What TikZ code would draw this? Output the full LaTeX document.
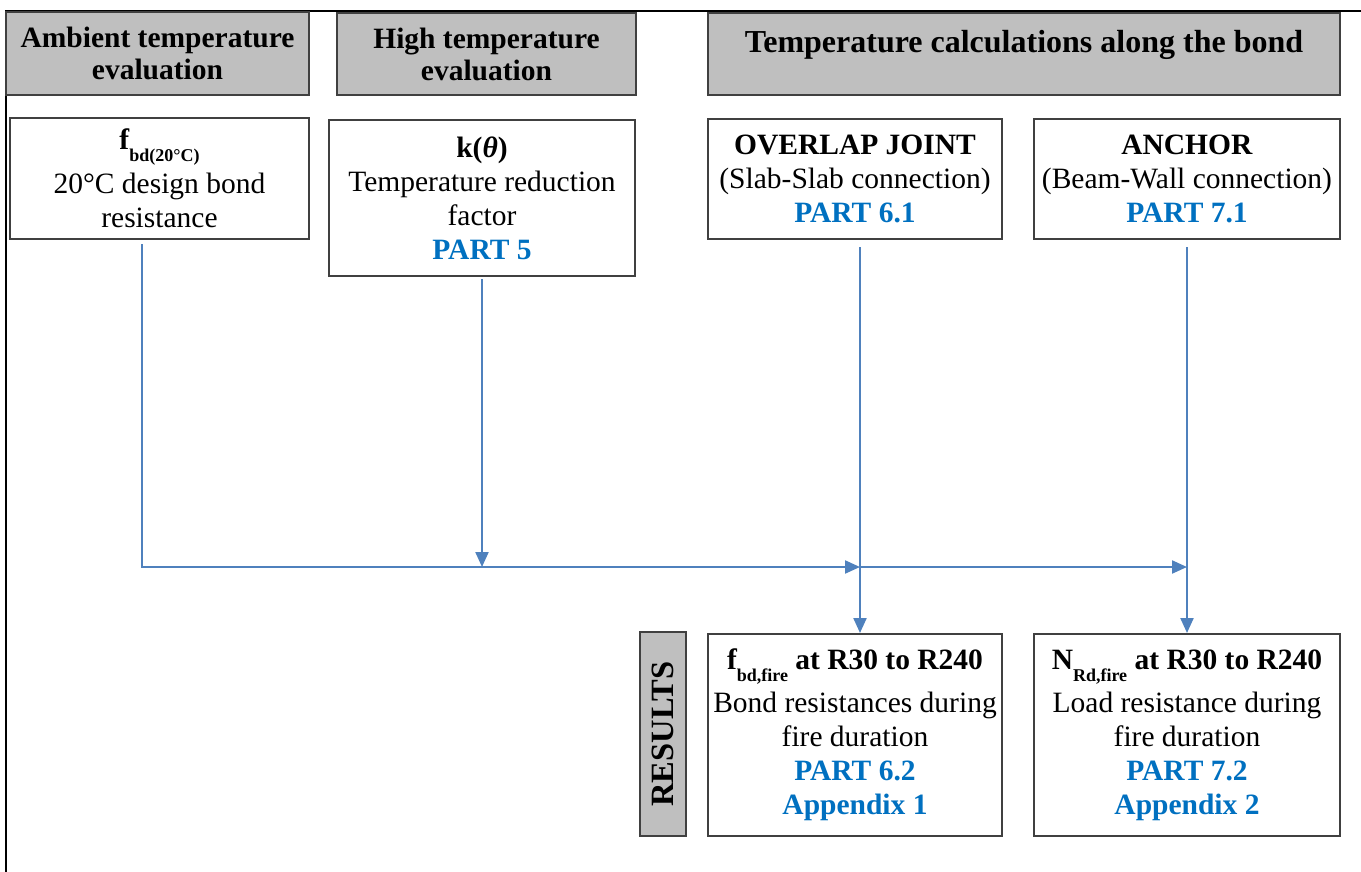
\documentclass[tikz,border=0pt]{standalone}
\usepackage{fontspec}
\setmainfont{Liberation Serif}
\usepackage{tikz}
\usetikzlibrary{arrows.meta}
\definecolor{HGray}{RGB}{191,191,191}
\definecolor{BGray}{RGB}{64,64,64}
\definecolor{PBlue}{RGB}{0,112,192}
\definecolor{LBlue}{RGB}{79,129,189}
\newcommand{\partref}[1]{{\color{PBlue}\textbf{#1}}}
\newcommand{\lowsub}[1]{\raisebox{-12pt}{\fontsize{18}{18}\selectfont\textbf{#1}}}

\begin{document}
\begin{tikzpicture}[x=1pt,y=-1pt,
  every node/.style={font=\fontsize{29.5}{34}\selectfont, align=center, inner sep=0pt},
  head/.style={draw=BGray, fill=HGray, line width=2pt, font=\fontsize{29.5}{32}\selectfont\bfseries},
  box/.style={draw=BGray, line width=2pt},
  flow/.style={draw=LBlue, line width=2.2pt, -{Triangle[length=15pt,width=13pt]}}]
\useasboundingbox (0,0) rectangle (1361,872);

% frame
\draw[line width=2.5pt] (1361,11) -- (6,11) -- (6,872);

% headings
\node[head, minimum width=303, minimum height=83] (amb) at (157.5,53.5) {Ambient temperature\\evaluation};
\node[head, minimum width=299, minimum height=82] (high) at (486.5,54) {High temperature\\evaluation};
\node[head, minimum width=632, minimum height=82, text depth=26pt, font=\fontsize{32}{34}\selectfont\bfseries] (tcalc) at (1024,54) {Temperature calculations along the bond};

% inputs
\node[box, minimum width=299, minimum height=121] (fbd) at (159.5,178.5) {\textbf{f\lowsub{bd(20°C)}}\\[7pt]20°C design bond\\resistance};
\node[box, minimum width=306, minimum height=156] (kfac) at (482,198) {\textbf{k(\textit{θ})}\\Temperature reduction\\factor\\\partref{PART 5}};
\node[box, minimum width=294, minimum height=120] (ovl) at (855,179) {\textbf{OVERLAP JOINT}\\(Slab-Slab connection)\\\partref{PART 6.1}};
\node[box, minimum width=306, minimum height=120] (anc) at (1187,179) {\textbf{ANCHOR}\\(Beam-Wall connection)\\\partref{PART 7.1}};

% results
\node[head, rotate=90, minimum width=204, minimum height=46, font=\fontsize{32.5}{34}\selectfont\bfseries] (res) at (663,734) {RESULTS};
\node[box, minimum width=294, minimum height=202] (fbdfire) at (855,735) {\textbf{f\lowsub{bd,fire} at R30 to R240}\\[7pt]Bond resistances during\\fire duration\\\partref{PART 6.2}\\\partref{Appendix 1}};
\node[box, minimum width=306, minimum height=202] (nrdfire) at (1187,735) {\textbf{N\lowsub{Rd,fire} at R30 to R240}\\[7pt]Load resistance during\\fire duration\\\partref{PART 7.2}\\\partref{Appendix 2}};

% connectors
\coordinate (bus) at (0,567);
\coordinate (d1) at ([xshift=-17.5pt]fbd.south);
\coordinate (d3) at ([xshift=5pt]ovl.south);
\draw[flow, shorten <=4pt] (d1) |- (d3 |- bus);
\draw[flow, shorten <=2pt] (kfac.south) -- (kfac.south |- bus);
\draw[flow] (d3 |- bus) -- (anc.south |- bus);
\draw[flow, shorten <=7pt] (d3) -- (d3 |- fbdfire.north);
\draw[flow, shorten <=7pt] (anc.south) -- (nrdfire.north);
\end{tikzpicture}
\end{document}
